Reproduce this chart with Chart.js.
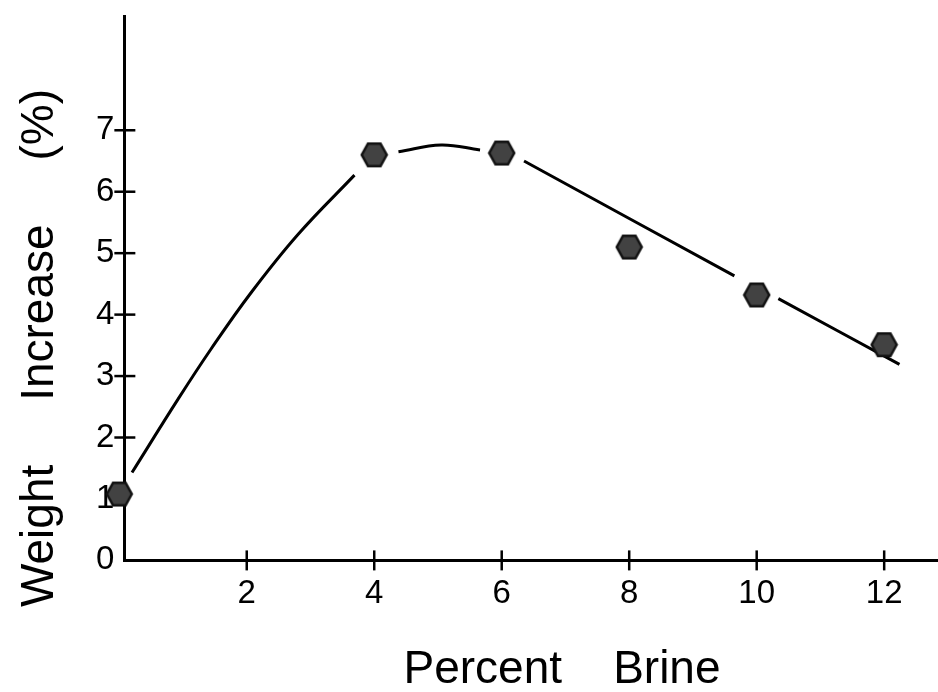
<!DOCTYPE html>
<html>
<head>
<meta charset="utf-8">
<title>Weight Increase vs Percent Brine</title>
<script src="https://cdn.jsdelivr.net/npm/chart.js@4/dist/chart.umd.min.js"></script>
<style>
  html, body { margin: 0; padding: 0; background: #fff; overflow: hidden; }
  #wrap { width: 938px; height: 692px; overflow: hidden; }
  /* a bit wider than the window so the x axis runs to the right edge */
  #inner { width: 952px; height: 692px; position: relative; }
</style>
</head>
<body>
<div id="wrap"><div id="inner"><canvas id="brineChart"></canvas></div></div>
<script>
// --- Data ---
const brine = [0, 4, 6, 8, 10, 12];
const weightIncrease = [1.08, 6.6, 6.63, 5.1, 4.32, 3.51];

// fitted curve as drawn (null = gap round a marker)
const curveX = [0.2, 0.92, 1.44, 2.07, 2.8, 3.69, null, 4.38, 5.05, 5.66, null, 6.35, 9.65, null, 10.34, 12.24];
const curveY = [1.43, 2.62, 3.44, 4.36, 5.3, 6.27, null, 6.65, 6.76, 6.68, null, 6.5, 4.63, null, 4.26, 3.19];

const xTicks = [2, 4, 6, 8, 10, 12];
const yTicks = [0, 1, 2, 3, 4, 5, 6, 7];

const xTitle = 'Percent    Brine';
const yTitle = 'Weight     Increase     (%)';

const FONT = '"Liberation Sans", Arial, sans-serif';

// --- Hexagon marker ---
function makeHexagon(r) {
  const c = document.createElement('canvas');
  const s = Math.ceil(r * 2 + 4);
  c.width = s; c.height = s;
  const g = c.getContext('2d');
  g.beginPath();
  for (let i = 0; i < 6; i++) {
    const a = Math.PI / 3 * i;
    const px = s / 2 + r * Math.cos(a);
    const py = s / 2 + r * Math.sin(a) * 1.05;
    if (i === 0) g.moveTo(px, py); else g.lineTo(px, py);
  }
  g.closePath();
  g.fillStyle = '#424242';
  g.fill();
  g.lineWidth = 2.5;
  g.strokeStyle = '#111';
  g.stroke();
  return c;
}
const hex = makeHexagon(12.5);

// --- Tick marks crossing the axes + titles ---
const axisDecor = {
  id: 'axisDecor',
  beforeDatasetsDraw(chart) {
    const { ctx, scales: { x, y } } = chart;
    ctx.save();
    ctx.strokeStyle = '#000';
    ctx.lineWidth = 2.5;
    xTicks.forEach(v => {
      const px = x.getPixelForValue(v);
      ctx.beginPath();
      ctx.moveTo(px, y.bottom - 10);
      ctx.lineTo(px, y.bottom + 10);
      ctx.stroke();
    });
    yTicks.filter(v => v > 1).forEach(v => {
      const py = y.getPixelForValue(v);
      ctx.beginPath();
      ctx.moveTo(x.left - 10, py);
      ctx.lineTo(x.left + 11, py);
      ctx.stroke();
    });
    ctx.restore();
  },
  afterDraw(chart) {
    const { ctx } = chart;
    ctx.save();
    ctx.fillStyle = '#000';
    ctx.font = '46px ' + FONT;
    ctx.textAlign = 'center';
    ctx.textBaseline = 'alphabetic';
    ctx.fillText(xTitle, 562, 683);
    ctx.translate(53, 348);
    ctx.rotate(-Math.PI / 2);
    ctx.fillText(yTitle, 0, 0);
    ctx.restore();
  }
};

const ctx = document.getElementById('brineChart').getContext('2d');
const chart = new Chart(ctx, {
  type: 'scatter',
  data: {
    datasets: [
      {
        label: 'Weight increase',
        data: brine.map((b, i) => ({ x: b, y: weightIncrease[i] })),
        pointStyle: hex,
        pointRadius: 12,
        pointHoverRadius: 12,
        clip: false,
        order: 1
      },
      {
        label: 'Fitted curve',
        data: curveX.map((cx, i) => ({ x: cx, y: curveY[i] })),
        showLine: true,
        spanGaps: false,
        borderColor: '#000',
        borderWidth: 3,
        pointRadius: 0,
        tension: 0.4,
        order: 2
      }
    ]
  },
  plugins: [axisDecor],
  options: {
    responsive: true,
    maintainAspectRatio: false,
    animation: false,
    devicePixelRatio: 1,
    layout: { padding: { left: 86, top: 13, right: 0, bottom: 64 } },
    plugins: {
      legend: { display: false },
      tooltip: { enabled: false }
    },
    scales: {
      x: {
        type: 'linear',
        min: 0.08,
        max: 12.86,
        afterBuildTicks: s => { s.ticks = xTicks.map(v => ({ value: v })); },
        grid: { display: false, drawTicks: false },
        border: { display: true, color: '#000', width: 3 },
        ticks: {
          color: '#000',
          padding: 14,
          maxRotation: 0,
          autoSkip: false,
          font: { family: FONT, size: 33 }
        }
      },
      y: {
        type: 'linear',
        min: 0,
        max: 8.85,
        afterBuildTicks: s => { s.ticks = yTicks.map(v => ({ value: v })); },
        grid: { display: false, drawTicks: false },
        border: { display: true, color: '#000', width: 3 },
        ticks: {
          color: '#000',
          padding: 10,
          autoSkip: false,
          font: { family: FONT, size: 33, lineHeight: 0.4 }
        }
      }
    }
  }
});
</script>
</body>
</html>
